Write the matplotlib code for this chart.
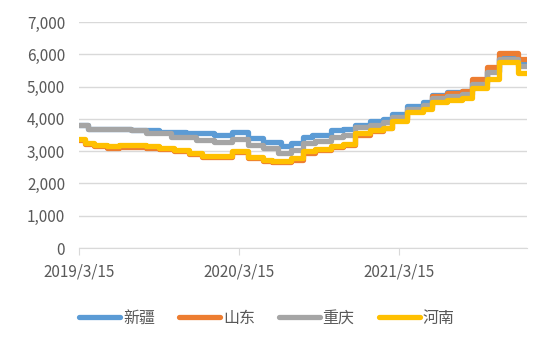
import numpy as np
import matplotlib
matplotlib.use("Agg")
import matplotlib.pyplot as plt
from matplotlib.ticker import FuncFormatter

plt.rcParams['font.family'] = ['Noto Sans CJK SC', 'DejaVu Sans']

# step change dates (weekly Friday quotes) and values per region
xj_dates = ['2019-03-15', '2019-04-05', '2019-07-12', '2019-09-13', '2019-11-15', '2020-01-17',
            '2020-02-28', '2020-04-03', '2020-05-08', '2020-06-19', '2020-07-10', '2020-08-07',
            '2020-08-28', '2020-10-09', '2020-11-06', '2020-12-04', '2021-01-08', '2021-02-05',
            '2021-02-26', '2021-04-02', '2021-05-07', '2021-05-28', '2021-07-02', '2021-08-06',
            '2021-08-27', '2021-10-01', '2021-10-29', '2021-12-10', '2021-12-31']
xj_vals = [3800, 3700, 3650, 3600, 3550, 3500,
           3600, 3400, 3300, 3150, 3250, 3450,
           3500, 3650, 3700, 3820, 3930, 4000,
           4150, 4400, 4530, 4750, 4830, 4880,
           5150, 5500, 5900, 5750, 5750]

sd_dates = ['2019-03-15', '2019-03-29', '2019-04-19', '2019-05-17', '2019-06-14', '2019-08-16',
            '2019-09-13', '2019-10-18', '2019-11-22', '2019-12-20', '2020-02-28', '2020-04-03',
            '2020-05-08', '2020-05-29', '2020-07-10', '2020-08-07', '2020-09-04', '2020-10-09',
            '2020-11-06', '2020-12-04', '2021-01-08', '2021-02-05', '2021-02-26', '2021-04-02',
            '2021-05-07', '2021-05-28', '2021-07-02', '2021-08-06', '2021-08-27', '2021-10-01',
            '2021-10-29', '2021-12-10', '2021-12-31']
sd_vals = [3340, 3210, 3160, 3110, 3140, 3110,
           3060, 3010, 2910, 2810, 2980, 2790,
           2690, 2660, 2740, 2950, 3030, 3120,
           3200, 3500, 3620, 3720, 4000, 4250,
           4380, 4700, 4800, 4850, 5250, 5600,
           6050, 5850, 5850]

cq_dates = ['2019-03-15', '2019-04-05', '2019-07-12', '2019-08-16', '2019-10-11', '2019-12-06',
            '2020-01-17', '2020-02-28', '2020-04-03', '2020-05-08', '2020-06-12', '2020-07-10',
            '2020-08-07', '2020-09-04', '2020-10-09', '2020-11-06', '2020-12-04', '2021-01-08',
            '2021-02-05', '2021-02-26', '2021-04-02', '2021-05-07', '2021-05-28', '2021-07-02',
            '2021-08-06', '2021-08-27', '2021-10-01', '2021-10-29', '2021-12-10', '2021-12-31']
cq_vals = [3800, 3700, 3650, 3550, 3450, 3350,
           3300, 3380, 3200, 3100, 2950, 3050,
           3250, 3330, 3450, 3500, 3750, 3820,
           3900, 4050, 4300, 4420, 4650, 4720,
           4780, 5080, 5450, 5850, 5650, 5650]

hn_dates = sd_dates
hn_vals = [3380, 3250, 3200, 3150, 3180, 3150,
           3100, 3050, 2950, 2850, 3020, 2830,
           2730, 2700, 2780, 3000, 3080, 3170,
           3230, 3550, 3650, 3720, 3950, 4200,
           4300, 4520, 4580, 4640, 4950, 5250,
           5750, 5430, 5430]

series = [('新疆', xj_dates, xj_vals, '#5B9BD5'),
          ('山东', sd_dates, sd_vals, '#ED7D31'),
          ('重庆', cq_dates, cq_vals, '#A5A5A5'),
          ('河南', hn_dates, hn_vals, '#FFC000')]

fig = plt.figure(figsize=(5.5, 3.45), dpi=100)
ax = fig.add_axes([0.1436, 0.281, 0.8144, 0.655])

for name, d, v, c in series:
    ax.plot(np.array(d, dtype='datetime64[D]'), v, drawstyle='steps-post',
            color=c, lw=3.8, label=name, solid_joinstyle='round', solid_capstyle='round')

ax.set_ylim(0, 7000)
ax.set_yticks(range(0, 7001, 1000))
ax.yaxis.set_major_formatter(FuncFormatter(lambda v, p: f"{int(v):,}"))
ax.set_xlim(np.datetime64('2019-03-15'), np.datetime64('2021-12-31'))
xt = np.array(['2019-03-15', '2020-03-15', '2021-03-15'], dtype='datetime64[D]')
ax.set_xticks(xt)
ax.set_xticklabels(['2019/3/15', '2020/3/15', '2021/3/15'])

ax.grid(axis='y', color='#D9D9D9', lw=1)
ax.set_axisbelow(True)
for s in ['left', 'right', 'top']:
    ax.spines[s].set_visible(False)
ax.spines['bottom'].set_color('#D9D9D9')
ax.tick_params(axis='y', length=0, pad=10, labelsize=11, labelcolor='#595959')
ax.tick_params(axis='x', length=5, color='#D9D9D9', pad=6, labelsize=11, labelcolor='#595959')

fig.legend(loc='center', bbox_to_anchor=(0.485, 0.078), ncol=4, frameon=False,
           fontsize=11.5, labelcolor='#595959', handlelength=2.6, handletextpad=0.15,
           columnspacing=1.5)

fig.savefig('out.png', dpi=100)
